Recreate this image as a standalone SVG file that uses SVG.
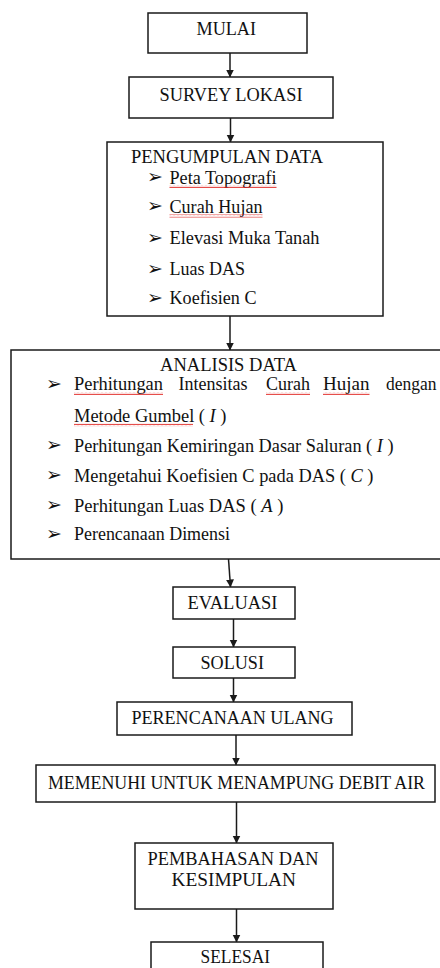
<svg xmlns="http://www.w3.org/2000/svg" width="440" height="968" viewBox="0 0 440 968">
<style>
.box{fill:#fff;stroke:#1a1a1a;stroke-width:1.5}
.t{font-family:"Liberation Serif","Times New Roman",serif;font-size:18px;fill:#111}
.b{font-family:"DejaVu Sans",sans-serif;font-size:19px;fill:#111}
.e{stroke:#1a1a1a;stroke-width:1.5;fill:none;marker-end:url(#ah)}
.sq{fill:url(#wave)}
</style>
<defs>
<marker id="ah" markerUnits="userSpaceOnUse" markerWidth="8" markerHeight="9" refX="7.5" refY="4" orient="auto">
<path d="M0,0 L8,4 L0,8 Z" fill="#1a1a1a"/>
</marker>
<pattern id="wave" patternUnits="userSpaceOnUse" width="4" height="3">
<path d="M0,2.2 L1,0.8 L2,2.2 L3,0.8 L4,2.2" stroke="#e0201c" stroke-width="0.8" fill="none"/>
</pattern>
</defs>
<rect width="440" height="968" fill="#fff"/>

<g id="edges">
<line class="e" x1="230" y1="53" x2="230" y2="77"/>
<line class="e" x1="230.5" y1="118" x2="230.5" y2="142"/>
<line class="e" x1="230" y1="316" x2="230" y2="350"/>
<line class="e" x1="228.5" y1="559" x2="230.5" y2="587"/>
<line class="e" x1="233.5" y1="619" x2="233.5" y2="647"/>
<line class="e" x1="233.5" y1="678" x2="233.5" y2="702"/>
<line class="e" x1="236" y1="735" x2="236" y2="765"/>
<line class="e" x1="236.5" y1="802" x2="236.5" y2="843"/>
<line class="e" x1="236.5" y1="909" x2="236.5" y2="942"/>
</g>

<g id="mulai">
<rect class="box" x="148" y="13" width="159" height="40"/>
<text class="t" x="196.5" y="34.5" textLength="59.5" lengthAdjust="spacingAndGlyphs">MULAI</text>
</g>

<g id="survey">
<rect class="box" x="129" y="77" width="204" height="41"/>
<text class="t" x="159.5" y="101" textLength="143" lengthAdjust="spacingAndGlyphs">SURVEY LOKASI</text>
</g>

<g id="pengumpulan">
<rect class="box" x="107" y="142" width="276" height="174"/>
<text class="t" x="131" y="163" textLength="192" lengthAdjust="spacingAndGlyphs">PENGUMPULAN DATA</text>
<text class="b" x="147" y="183">➢</text>
<text class="t" x="169.5" y="183.5" textLength="107" lengthAdjust="spacingAndGlyphs">Peta Topografi</text>
<rect class="sq" x="169.5" y="185" width="107" height="3"/>
<text class="b" x="147" y="212">➢</text>
<text class="t" x="169.5" y="212.5" textLength="93" lengthAdjust="spacingAndGlyphs">Curah Hujan</text>
<rect class="sq" x="169.5" y="214.5" width="93" height="3"/>
<text class="b" x="147" y="243.5">➢</text>
<text class="t" x="169.5" y="244" textLength="150" lengthAdjust="spacingAndGlyphs">Elevasi Muka Tanah</text>
<text class="b" x="147" y="274.5">➢</text>
<text class="t" x="169.5" y="275" textLength="75.5" lengthAdjust="spacingAndGlyphs">Luas DAS</text>
<text class="b" x="147" y="303.5">➢</text>
<text class="t" x="169.5" y="304" textLength="87" lengthAdjust="spacingAndGlyphs">Koefisien C</text>
</g>

<g id="analisis">
<rect class="box" x="11" y="350" width="434" height="209"/>
<text class="t" x="160" y="370.5" textLength="137" lengthAdjust="spacingAndGlyphs">ANALISIS DATA</text>
<text class="b" x="46" y="389.5">➢</text>
<text class="t" x="74" y="390" textLength="89" lengthAdjust="spacingAndGlyphs">Perhitungan</text>
<text class="t" x="178.5" y="390" textLength="69" lengthAdjust="spacingAndGlyphs">Intensitas</text>
<text class="t" x="266" y="390" textLength="44" lengthAdjust="spacingAndGlyphs">Curah</text>
<text class="t" x="323" y="390" textLength="46.5" lengthAdjust="spacingAndGlyphs">Hujan</text>
<text class="t" x="386" y="390" textLength="50.5" lengthAdjust="spacingAndGlyphs">dengan</text>
<rect class="sq" x="74" y="392" width="89" height="3"/>
<rect class="sq" x="266" y="392" width="44" height="3"/>
<rect class="sq" x="323" y="392" width="46.5" height="3"/>
<text class="t" x="74" y="421.5" textLength="152.5" lengthAdjust="spacingAndGlyphs">Metode Gumbel ( <tspan font-style="italic">I</tspan> )</text>
<rect class="sq" x="74" y="423.5" width="119" height="3"/>
<text class="b" x="46" y="451">➢</text>
<text class="t" x="74" y="451.5" textLength="319.5" lengthAdjust="spacingAndGlyphs">Perhitungan Kemiringan Dasar Saluran ( <tspan font-style="italic">I</tspan> )</text>
<text class="b" x="46" y="481">➢</text>
<text class="t" x="74" y="481.5" textLength="299.5" lengthAdjust="spacingAndGlyphs">Mengetahui Koefisien C pada DAS ( <tspan font-style="italic">C</tspan> )</text>
<text class="b" x="46" y="511">➢</text>
<text class="t" x="74" y="511.5" textLength="209.5" lengthAdjust="spacingAndGlyphs">Perhitungan Luas DAS ( <tspan font-style="italic">A</tspan> )</text>
<text class="b" x="46" y="539.5">➢</text>
<text class="t" x="74" y="540" textLength="156" lengthAdjust="spacingAndGlyphs">Perencanaan Dimensi</text>
</g>

<g id="evaluasi">
<rect class="box" x="173" y="587" width="122" height="32"/>
<text class="t" x="187.5" y="608.5" textLength="90" lengthAdjust="spacingAndGlyphs">EVALUASI</text>
</g>

<g id="solusi">
<rect class="box" x="173" y="647" width="122" height="31"/>
<text class="t" x="200.5" y="668.5" textLength="63.5" lengthAdjust="spacingAndGlyphs">SOLUSI</text>
</g>

<g id="perencanaan">
<rect class="box" x="117" y="702" width="235" height="33"/>
<text class="t" x="131.5" y="724" textLength="202" lengthAdjust="spacingAndGlyphs">PERENCANAAN ULANG</text>
</g>

<g id="memenuhi">
<rect class="box" x="36" y="765" width="399" height="37"/>
<text class="t" x="48" y="788.5" textLength="377" lengthAdjust="spacingAndGlyphs">MEMENUHI UNTUK MENAMPUNG DEBIT AIR</text>
</g>

<g id="pembahasan">
<rect class="box" x="135" y="843" width="198" height="66"/>
<text class="t" x="147.5" y="865" textLength="171" lengthAdjust="spacingAndGlyphs">PEMBAHASAN DAN</text>
<text class="t" x="171.5" y="886" textLength="124.5" lengthAdjust="spacingAndGlyphs">KESIMPULAN</text>
</g>

<g id="selesai">
<rect class="box" x="151" y="942" width="172" height="40"/>
<text class="t" x="200.5" y="962.5" textLength="69.5" lengthAdjust="spacingAndGlyphs">SELESAI</text>
</g>
</svg>
